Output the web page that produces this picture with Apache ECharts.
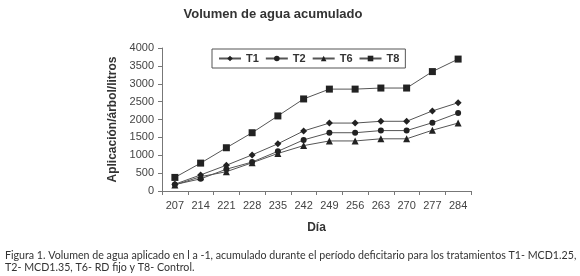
<!DOCTYPE html>
<html><head><meta charset="utf-8">
<script src="https://cdn.jsdelivr.net/npm/echarts@6/dist/echarts.min.js"></script>
<style>html,body{margin:0;padding:0;background:#fff}#c{width:580px;height:276px}</style>
</head><body><div id="c"></div>
<script>
const days = ['207','214','221','228','235','242','249','256','263','270','277','284'];
const T1 = [190, 450, 720, 1010, 1320, 1680, 1900, 1900, 1950, 1950, 2240, 2470];
const T2 = [180, 340, 610, 810, 1110, 1430, 1630, 1630, 1690, 1690, 1910, 2180];
const T6 = [170, 400, 540, 790, 1050, 1270, 1400, 1400, 1460, 1460, 1700, 1900];
const T8 = [380, 780, 1210, 1630, 2100, 2575, 2850, 2850, 2880, 2880, 3340, 3690];
const yTicks = [0, 500, 1000, 1500, 2000, 2500, 3000, 3500, 4000];
const caption1 = 'Figura 1. Volumen de agua aplicado en l a -1, acumulado durante el período deficitario para los tratamientos T1- MCD1.25,';
const caption2 = 'T2- MCD1.35, T6- RD fijo y T8- Control.';

const capFont = 'Lato, "Open Sans", sans-serif';
const cv = document.createElement('canvas').getContext('2d');
cv.font = '10px ' + capFont;
let capSize = 10 * 572 / cv.measureText(caption1).width;
capSize = Math.max(9, Math.min(12, capSize));

const chart = echarts.init(document.getElementById('c'), null, {renderer:'canvas'});
const font = 'Liberation Sans, Arial, sans-serif';
function mk(name, data, symbol, size){
  return {name, type:'line', data, symbol, symbolSize:size, showSymbol:true,
    lineStyle:{color:'#555', width:1}, itemStyle:{color:'#222', borderWidth:0},
    emphasis:{disabled:true}, animation:false};
}
chart.setOption({
  animation:false,
  title:{text:'Volumen de agua acumulado', left:268, top:3, textAlign:'center',
    textStyle:{fontFamily:font, fontSize:13, fontWeight:'bold', color:'#333'}},
  legend:{left:212, top:49, padding:[4,6,4,6], itemGap:6, itemWidth:22, itemHeight:7,
    borderColor:'#555', borderWidth:1, borderRadius:0, orient:'horizontal',
    textStyle:{fontFamily:font, fontSize:11, fontWeight:'bold', color:'#333'},
    data:['T1','T2','T6','T8']},
  grid:{left:162, right:109, top:48, bottom:85, containLabel:false},
  xAxis:{type:'category', data:days, boundaryGap:true,
    name:'Día', nameLocation:'middle', nameGap:31,
    nameTextStyle:{fontFamily:font, fontSize:12, fontWeight:'bold', color:'#333'},
    axisLine:{lineStyle:{color:'#777', width:1}},
    axisTick:{show:true, alignWithLabel:false, length:4, lineStyle:{color:'#777'}},
    axisLabel:{fontFamily:font, fontSize:11, color:'#444', margin:9}},
  yAxis:{type:'value', min:0, max:4000, interval:500,
    name:'Aplicación/árbol/litros', nameLocation:'middle', nameGap:33, nameRotate:90,
    nameTextStyle:{fontFamily:font, fontSize:12, fontWeight:'bold', color:'#333'},
    axisLine:{show:true, lineStyle:{color:'#777', width:1}},
    axisTick:{show:true, length:4, lineStyle:{color:'#777'}},
    splitLine:{show:false},
    axisLabel:{fontFamily:font, fontSize:11, color:'#444', margin:8,
      formatter:v=>yTicks.includes(v)?String(v):''}},
  series:[mk('T1',T1,'diamond',7), mk('T2',T2,'circle',6), mk('T6',T6,'triangle',7), mk('T8',T8,'rect',7)],
  graphic:[
    {type:'text', left:5, top:250, style:{text:caption1, fontFamily:capFont, fontSize:capSize, fill:'#333'}},
    {type:'text', left:5, top:262, style:{text:caption2, fontFamily:capFont, fontSize:capSize, fill:'#333'}}
  ]
});
</script></body></html>
